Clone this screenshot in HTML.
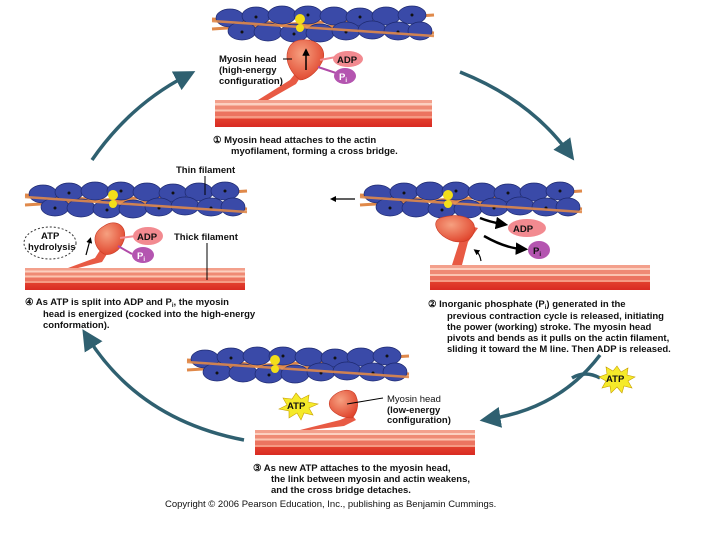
<!DOCTYPE html>
<html><head><meta charset="utf-8"><style>
body{margin:0;background:#fff;width:720px;height:540px;overflow:hidden}
svg{display:block}
text{font-family:"Liberation Sans",Arial,sans-serif;font-weight:bold;fill:#111}
.t{font-size:9.5px}
.n{font-weight:normal}
</style></head><body>
<svg width="720" height="540" viewBox="0 0 720 540">
<defs>
<linearGradient id="th" x1="0" y1="0" x2="0" y2="1">
<stop offset="0" stop-color="#f3a08c"/><stop offset="0.12" stop-color="#f3a08c"/>
<stop offset="0.12" stop-color="#fcd0c0"/><stop offset="0.2" stop-color="#fcd0c0"/>
<stop offset="0.2" stop-color="#ef8a74"/><stop offset="0.35" stop-color="#ef8a74"/>
<stop offset="0.35" stop-color="#fbc4b0"/><stop offset="0.43" stop-color="#fbc4b0"/>
<stop offset="0.43" stop-color="#ec7460"/><stop offset="0.6" stop-color="#ec7460"/>
<stop offset="0.6" stop-color="#f59a84"/><stop offset="0.68" stop-color="#f59a84"/>
<stop offset="0.68" stop-color="#e2402e"/><stop offset="1" stop-color="#d92a22"/>
</linearGradient>
<radialGradient id="hd" cx="0.4" cy="0.35" r="0.7"><stop offset="0" stop-color="#f6a080"/><stop offset="1" stop-color="#e0442c"/></radialGradient>
<g id="actin">
<line x1="0" y1="12" x2="222" y2="26" stroke="#e0894a" stroke-width="3"/>
<line x1="0" y1="22" x2="222" y2="8" stroke="#e0894a" stroke-width="3"/>
<g fill="#3a4aa8" stroke="#1e2a70" stroke-width="0.7">
<ellipse cx="18" cy="11" rx="14" ry="9"/><ellipse cx="44" cy="9" rx="14" ry="9"/><ellipse cx="70" cy="8" rx="14" ry="9"/><ellipse cx="96" cy="8" rx="14" ry="9"/><ellipse cx="122" cy="9" rx="14" ry="9"/><ellipse cx="148" cy="10" rx="14" ry="9"/><ellipse cx="174" cy="9" rx="14" ry="9"/><ellipse cx="200" cy="8" rx="14" ry="9"/>
<ellipse cx="30" cy="24" rx="14" ry="9"/><ellipse cx="56" cy="25" rx="14" ry="9"/><ellipse cx="82" cy="26" rx="14" ry="9"/><ellipse cx="108" cy="26" rx="14" ry="9"/><ellipse cx="134" cy="24" rx="14" ry="9"/><ellipse cx="160" cy="23" rx="14" ry="9"/><ellipse cx="186" cy="24" rx="14" ry="9"/><ellipse cx="208" cy="24" rx="12" ry="9"/>
</g>
<g fill="#111"><circle cx="44" cy="10" r="1.5"/><circle cx="96" cy="8" r="1.5"/><circle cx="148" cy="10" r="1.5"/><circle cx="200" cy="8" r="1.5"/><circle cx="30" cy="25" r="1.5"/><circle cx="82" cy="27" r="1.5"/><circle cx="134" cy="25" r="1.5"/><circle cx="186" cy="25" r="1.5"/></g>
<line x1="0" y1="14" x2="222" y2="29" stroke="#e0894a" stroke-width="2.5" opacity="0.9"/>
<circle cx="88" cy="12" r="5" fill="#f2de1a"/><circle cx="88" cy="21" r="4" fill="#f2de1a"/>
</g>
<marker id="ar" markerWidth="6" markerHeight="6" refX="3" refY="3" orient="auto"><path d="M0,0L6,3L0,6z" fill="#2f6070"/></marker>
<marker id="ab" markerWidth="5" markerHeight="5" refX="2.5" refY="2.5" orient="auto"><path d="M0,0L5,2.5L0,5z" fill="#000"/></marker>
</defs>

<g fill="none" stroke="#2f6070" stroke-width="3.5">
<path d="M92 160 Q130 105 186 76" marker-end="url(#ar)"/>
<path d="M460 72 Q530 100 568 152" marker-end="url(#ar)"/>
<path d="M600 355 Q560 408 490 419" marker-end="url(#ar)"/>
<path d="M600 378 Q585 370 572 378"/>
<path d="M244 440 Q140 420 88 338" marker-end="url(#ar)"/>
</g>
<line x1="355" y1="199" x2="333" y2="199" stroke="#000" stroke-width="1.2" marker-end="url(#ab)"/>

<use href="#actin" x="212" y="7"/>
<rect x="215" y="100" width="217" height="27" fill="url(#th)"/>
<path d="M258 100 L290 80 L298 70 L305 70 L296 84 L268 100z" fill="#e85a44"/>
<path d="M300 40 C318 38 328 50 322 62 C316 74 306 80 300 80 C292 74 284 62 288 50 C290 44 294 41 300 40z" fill="url(#hd)" stroke="#c83a24" stroke-width="0.6"/>
<line x1="306" y1="70" x2="306" y2="52" stroke="#000" stroke-width="1.5" marker-end="url(#ab)"/>
<path d="M320 60 L336 57" stroke="#f28a90" stroke-width="2"/>
<ellipse cx="348" cy="59" rx="15" ry="8" fill="#f28a90"/><text x="337" y="63" class="t">ADP</text>
<path d="M318 67 L336 73" stroke="#b04aa8" stroke-width="2"/>
<ellipse cx="345" cy="76" rx="11" ry="8" fill="#b455b0"/><text x="339" y="80" class="t" style="fill:#fff">P<tspan font-size="6" dy="2">i</tspan></text>
<text x="219" y="62" class="t">Myosin head</text><line x1="283" y1="59" x2="292" y2="59" stroke="#000"/>
<text x="219" y="73" class="t">(high-energy</text>
<text x="219" y="84" class="t">configuration)</text>
<text x="213" y="143" class="t" font-size="10">① Myosin head attaches to the actin</text>
<text x="231" y="154" class="t">myofilament, forming a cross bridge.</text>

<use href="#actin" x="25" y="183"/>
<text x="176" y="173" class="t">Thin filament</text><line x1="205" y1="176" x2="205" y2="195" stroke="#000"/>
<rect x="25" y="268" width="220" height="22" fill="url(#th)"/>
<path d="M68 268 L95 258 L104 244 L112 246 L102 262 L78 268z" fill="#e85a44"/>
<path d="M104 226 C116 218 128 226 124 240 C120 252 110 256 104 254 C94 248 90 234 104 226z" fill="url(#hd)" stroke="#c83a24" stroke-width="0.6"/>
<path d="M120 238 L136 236" stroke="#f28a90" stroke-width="2"/>
<ellipse cx="148" cy="236" rx="15" ry="9" fill="#f28a90"/><text x="137" y="240" class="t">ADP</text>
<path d="M118 246 L132 254" stroke="#b04aa8" stroke-width="2"/>
<ellipse cx="143" cy="255" rx="11" ry="8" fill="#b455b0"/><text x="137" y="259" class="t" style="fill:#fff">P<tspan font-size="6" dy="2">i</tspan></text>
<ellipse cx="50" cy="243" rx="26" ry="16" fill="none" stroke="#333" stroke-dasharray="2,2"/>
<text x="41" y="239" class="t">ATP</text><text x="28" y="250" class="t">hydrolysis</text>
<line x1="86" y1="255" x2="90" y2="240" stroke="#000" stroke-width="1.2" marker-end="url(#ab)"/>
<text x="174" y="240" class="t">Thick filament</text><line x1="207" y1="243" x2="207" y2="280" stroke="#000"/>
<text x="25" y="305" class="t" font-size="10">④ As ATP is split into ADP and P<tspan font-size="6" dy="2">i</tspan><tspan dy="-2">, the myosin</tspan></text>
<text x="43" y="317" class="t">head is energized (cocked into the high-energy</text>
<text x="43" y="328" class="t">conformation).</text>

<use href="#actin" x="360" y="183"/>
<rect x="430" y="265" width="220" height="25" fill="url(#th)"/>
<path d="M452 265 L460 240 L470 226 L478 228 L468 242 L462 265z" fill="#e85a44"/>
<path d="M440 218 C460 212 478 218 474 232 C470 244 456 244 446 238 C436 232 432 222 440 218z" fill="url(#hd)" stroke="#c83a24" stroke-width="0.6"/>
<path d="M480 218 Q490 222 502 224" fill="none" stroke="#000" stroke-width="2.5" marker-end="url(#ab)"/>
<ellipse cx="527" cy="228" rx="19" ry="9" fill="#f28a90"/><text x="513" y="232" class="t">ADP</text>
<path d="M484 236 Q505 248 522 249" fill="none" stroke="#000" stroke-width="2.5" marker-end="url(#ab)"/>
<ellipse cx="539" cy="250" rx="11" ry="9" fill="#b455b0"/><text x="533" y="254" class="t">P<tspan font-size="6" dy="2">i</tspan></text>
<path d="M481 261 Q480 254 476 251" fill="none" stroke="#000" stroke-width="1.2" marker-end="url(#ab)"/>
<text x="428" y="307" class="t" font-size="10">② Inorganic phosphate (P<tspan font-size="6" dy="2">i</tspan><tspan dy="-2">) generated in the</tspan></text>
<text x="447" y="319" class="t">previous contraction cycle is released, initiating</text>
<text x="447" y="330" class="t">the power (working) stroke. The myosin head</text>
<text x="447" y="341" class="t">pivots and bends as it pulls on the actin filament,</text>
<text x="447" y="352" class="t">sliding it toward the M line. Then ADP is released.</text>
<polygon points="617,366 621,372 628,368 627,375 635,377 628,381 632,388 624,386 622,393 617,387 611,393 610,386 602,388 606,381 599,377 607,374 606,367 613,371" fill="#f5ea2a" stroke="#c8a000" stroke-width="0.6"/>
<text x="606" y="382" class="t">ATP</text>

<use href="#actin" x="187" y="348"/>
<rect x="255" y="430" width="220" height="25" fill="url(#th)"/>
<path d="M300 430 L340 420 L352 415 L356 420 L344 426 L310 430z" fill="#e85a44"/>
<path d="M330 400 C336 390 352 386 356 396 C360 406 356 414 352 418 C340 418 326 410 330 400z" fill="url(#hd)" stroke="#c83a24" stroke-width="0.6"/>
<polygon points="296,393 301,399 309,395 308,402 318,404 309,408 313,415 304,413 301,420 297,413 289,418 289,411 279,409 287,405 283,398 292,399" fill="#f5ea2a" stroke="#c8a000" stroke-width="0.6"/>
<text x="287" y="409" class="t">ATP</text>
<line x1="347" y1="404" x2="383" y2="398" stroke="#000"/>
<text x="387" y="402" class="t n">Myosin head</text>
<text x="387" y="413" class="t">(low-energy</text>
<text x="387" y="423" class="t">configuration)</text>
<text x="253" y="471" class="t" font-size="10">③ As new ATP attaches to the myosin head,</text>
<text x="271" y="482" class="t">the link between myosin and actin weakens,</text>
<text x="271" y="493" class="t">and the cross bridge detaches.</text>
<text x="165" y="507" class="t n" font-size="9">Copyright © 2006 Pearson Education, Inc., publishing as Benjamin Cummings.</text>
</svg>
</body></html>
